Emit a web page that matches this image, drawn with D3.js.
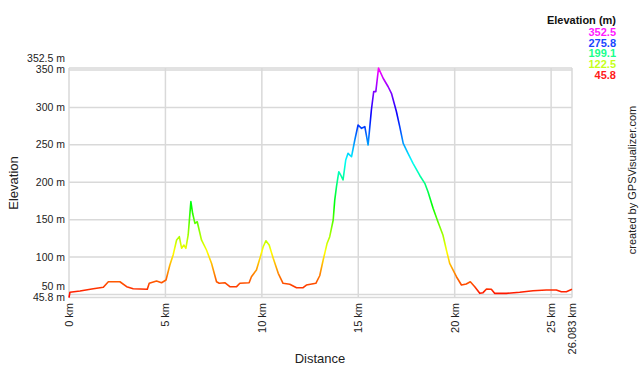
<!DOCTYPE html>
<html><head><meta charset="utf-8">
<script src="https://cdn.jsdelivr.net/npm/d3@7/dist/d3.min.js"></script>
<style>body{margin:0;background:#fff}svg{display:block;font-family:"Liberation Sans",Arial,sans-serif}</style>
</head><body><svg id="c" width="640" height="366"></svg>
<script>
const dist = [0,0.05,0.57,1.26,1.78,2.04,2.64,2.99,3.33,4.06,4.16,4.54,4.8,5.03,5.23,5.4,5.58,5.72,5.84,5.96,6.06,6.18,6.32,6.41,6.53,6.65,6.87,7.13,7.39,7.65,7.79,8.08,8.34,8.69,8.86,9.34,9.46,9.72,9.9,10.07,10.21,10.38,10.59,10.85,11.1,11.45,11.8,12.14,12.31,12.8,13.0,13.18,13.38,13.52,13.7,13.78,13.87,13.99,14.09,14.21,14.35,14.47,14.65,14.82,14.99,15.17,15.34,15.42,15.51,15.6,15.68,15.8,15.91,16.05,16.29,16.55,16.72,16.98,17.15,17.33,17.58,17.84,18.19,18.45,18.62,18.88,19.13,19.39,19.57,19.74,20.09,20.35,20.6,20.81,21.04,21.3,21.47,21.65,21.9,22.07,22.68,23.37,24.06,24.75,25.27,25.53,25.79,26.083];
const elev = [45.8,53,54.6,57.7,59.6,67,67,60.4,57.7,56.9,64.9,68,65.7,69.3,89.4,102.7,122.8,127.2,111.7,116,111.7,129.5,174,158.5,145,147.2,122.8,109.4,91.6,67,64.9,65.7,60.4,60.4,64.9,65.7,73.7,82.7,98.3,113.8,121.8,116,98.3,78.3,64.9,63.6,59,59,62.6,64.9,75,96,118,127.2,149.5,176.2,194,214,209.6,203,229.7,238.6,234,256.4,276.5,272,274.2,263,249.7,274.2,296.5,321,321,352.5,338.9,327.6,318.8,294.2,274.2,252,238.6,225.3,209,198.5,187,165.1,147.2,129.5,109.4,91.6,73.7,62.6,64,67,60.4,51.5,52.4,57.3,56.9,51.5,51.5,52.9,55,56,56,53.7,53.7,56.9];
const xTicks = [0,5,10,15,20,25];
const yTicks = [50,100,150,200,250,300,350];
const legendValues = [352.5,275.8,199.1,122.5,45.8];
const legendHues = [300,228,150,75,0];

const svg = d3.select("#c");
const minE = 45.8, maxE = 352.5, maxD = 26.083;
const x = d3.scaleLinear().domain([0, maxD]).range([69, 572]);
const y = d3.scaleLinear().domain([minE, maxE]).range([297.6, 68.1]);
const hue = d3.scaleLinear().domain(legendValues.slice().reverse()).range(legendHues.slice().reverse());
const col = v => d3.hsl(hue(v), 1, 0.5).formatHex();
const grid = "#d9d9d9";

// grid
const g = svg.append("g");
g.selectAll(".hg").data(yTicks.concat([minE, maxE])).join("line")
  .attr("x1", x(0)).attr("x2", x(maxD)).attr("y1", d => y(d)).attr("y2", d => y(d))
  .attr("stroke", grid).attr("stroke-width", 1.5);
g.selectAll(".vg").data(xTicks.concat([maxD])).join("line")
  .attr("y1", y(minE)).attr("y2", y(maxE)).attr("x1", d => x(d)).attr("x2", d => x(d))
  .attr("stroke", grid).attr("stroke-width", 1.5);

// y labels
const yLab = yTicks.map(v => ({v, t: v + " m", dy: v === 50 ? -8 : 0}))
  .concat([{v: maxE, t: maxE + " m", dy: -10}, {v: minE, t: minE + " m", dy: 0}]);
svg.selectAll(".yl").data(yLab).join("text")
  .attr("x", 65).attr("y", d => y(d.v) + d.dy + 3.5)
  .attr("text-anchor", "end").attr("font-size", 10.5).attr("fill", "#222").text(d => d.t);

// x labels
const xLab = xTicks.map(v => ({v, t: v + " km"})).concat([{v: maxD, t: maxD + " km"}]);
svg.selectAll(".xl").data(xLab).join("text")
  .attr("transform", d => `translate(${x(d.v) + 4},303) rotate(-90)`)
  .attr("text-anchor", "end").attr("font-size", 11).attr("fill", "#222").text(d => d.t);

// gradient
const defs = svg.append("defs");
const grad = defs.append("linearGradient").attr("id", "eg")
  .attr("gradientUnits", "userSpaceOnUse")
  .attr("x1", 0).attr("x2", 0).attr("y1", y(minE)).attr("y2", y(maxE));
d3.range(0, 1.0001, 0.05).forEach(t => {
  const v = minE + t * (maxE - minE);
  grad.append("stop").attr("offset", t).attr("stop-color", col(v));
});

const pts = dist.map((d, i) => [d, elev[i]]);
svg.append("path").datum(pts)
  .attr("d", d3.line().x(d => x(d[0])).y(d => y(d[1])))
  .attr("fill", "none").attr("stroke", "url(#eg)").attr("stroke-width", 1.6)
  .attr("stroke-linejoin", "round");

// axis titles
svg.append("text").attr("x", 320).attr("y", 363).attr("text-anchor", "middle")
  .attr("font-size", 13).attr("fill", "#222").text("Distance");
svg.append("text").attr("transform", "translate(17.5,183) rotate(-90)").attr("text-anchor", "middle")
  .attr("font-size", 13).attr("fill", "#222").text("Elevation");
svg.append("text").attr("transform", "translate(636,180) rotate(-90)").attr("text-anchor", "middle")
  .attr("font-size", 11).attr("fill", "#222").text("created by GPSVisualizer.com");

// legend
svg.append("text").attr("x", 616).attr("y", 24).attr("text-anchor", "end")
  .attr("font-size", 11).attr("font-weight", "bold").attr("fill", "#111").text("Elevation (m)");
svg.selectAll(".lg").data(legendValues).join("text")
  .attr("x", 616).attr("y", (d, i) => 36 + i * 10.7).attr("text-anchor", "end")
  .attr("font-size", 11).attr("font-weight", "bold")
  .attr("fill", d => d3.hsl(hue(d), 1, 0.55).formatHex()).text(d => d.toFixed(1));
</script></body></html>
